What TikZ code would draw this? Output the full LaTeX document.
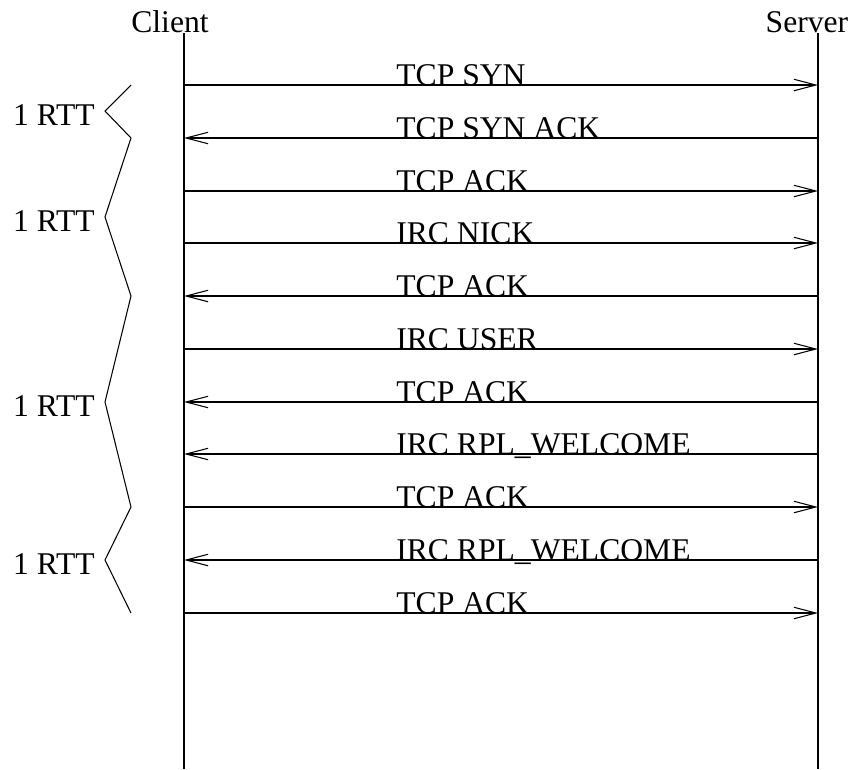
\documentclass[tikz,border=0pt]{standalone}
\usepackage{fontspec}
\setmainfont{Liberation Serif}
\usepackage{tikz}
\usetikzlibrary{arrows.meta}

\begin{document}
\begin{tikzpicture}[
  x=0.02cm,y=-0.02cm,
  every node/.style={font=\fontsize{18}{21}\selectfont,inner sep=0pt},
  lifeline/.style={line width=1.4pt,draw=black},
  msg/.style={-{Straight Barb[length=0.44cm,width=0.23cm,line width=0.6pt]},line width=0.65pt},
  msglabel/.style={anchor=base west},
  rtt/.style={line width=0.6pt},
  rttlabel/.style={anchor=east}
]
  \useasboundingbox (0,0) rectangle (853,769);

  % hosts and their time lines
  \node[anchor=base] (client) at (170,32) {Client};
  \node[anchor=base] (server) at (807,32) {Server};
  \coordinate (ctop) at (184,33);  \coordinate (cbot) at (184,769);
  \coordinate (stop) at (818,33);  \coordinate (sbot) at (818,769);
  \draw[lifeline] (ctop) -- (cbot);
  \draw[lifeline] (stop) -- (sbot);

  % end points of the messages on both time lines
  \coordinate (c1) at (184,85);   \coordinate (s1) at (818,85);
  \coordinate (c2) at (184,138);  \coordinate (s2) at (818,138);
  \coordinate (c3) at (184,191);  \coordinate (s3) at (818,191);
  \coordinate (c4) at (184,243);  \coordinate (s4) at (818,243);
  \coordinate (c5) at (184,296);  \coordinate (s5) at (818,296);
  \coordinate (c6) at (184,349);  \coordinate (s6) at (818,349);
  \coordinate (c7) at (184,402);  \coordinate (s7) at (818,402);
  \coordinate (c8) at (184,454);  \coordinate (s8) at (818,454);
  \coordinate (c9) at (184,507);  \coordinate (s9) at (818,507);
  \coordinate (c10) at (184,560); \coordinate (s10) at (818,560);
  \coordinate (c11) at (184,613); \coordinate (s11) at (818,613);

  % handshake and registration
  \node[msglabel] (m1) at (396,85) {TCP SYN};
  \node[msglabel] (m2) at (396,138) {TCP SYN ACK};
  \node[msglabel] (m3) at (396,191) {TCP ACK};
  \node[msglabel] (m4) at (396,243) {IRC NICK};
  \node[msglabel] (m5) at (396,296) {TCP ACK};
  \node[msglabel] (m6) at (396,349) {IRC USER};
  \node[msglabel] (m7) at (396,402) {TCP ACK};
  \node[msglabel] (m8) at (396,454) {IRC RPL\_WELCOME};
  \node[msglabel] (m9) at (396,507) {TCP ACK};
  \node[msglabel] (m10) at (396,560) {IRC RPL\_WELCOME};
  \node[msglabel] (m11) at (396,613) {TCP ACK};

  \draw[msg] (c1) -- (s1);
  \draw[msg] (s2) -- (c2);
  \draw[msg] (c3) -- (s3);
  \draw[msg] (c4) -- (s4);
  \draw[msg] (s5) -- (c5);
  \draw[msg] (c6) -- (s6);
  \draw[msg] (s7) -- (c7);
  \draw[msg] (s8) -- (c8);
  \draw[msg] (c9) -- (s9);
  \draw[msg] (s10) -- (c10);
  \draw[msg] (c11) -- (s11);

  % round trips
  \draw[rtt] (131,85) -- (105,111) -- (131,138) -- (105,217) -- (131,296)
    -- (105,402) -- (131,507) -- (105,560) -- (131,613);
  \node[rttlabel] (rtt1) at (95,115) {1 RTT};
  \node[rttlabel] (rtt2) at (95,221) {1 RTT};
  \node[rttlabel] (rtt3) at (95,406) {1 RTT};
  \node[rttlabel] (rtt4) at (95,564) {1 RTT};
\end{tikzpicture}
\end{document}
